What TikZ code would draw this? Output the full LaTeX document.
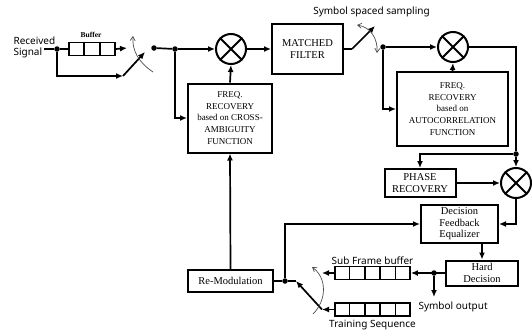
\documentclass[tikz,border=0pt]{standalone}
\usepackage{fontspec}
\setmainfont{Liberation Serif}
\newfontfamily\labelfont{Noto Sans}
\usetikzlibrary{arrows.meta, calc}

\tikzset{
  block/.style={draw, line width=2pt, fill=white, align=center, inner sep=1pt, font=\fontsize{10.5}{12.5}\selectfont},
  freqblock/.style={block, font=\fontsize{9}{11.8}\selectfont},
  mixer/.style={draw, circle, line width=2pt, minimum size=30pt, inner sep=0pt},
  bufbox/.style={draw, line width=1.8pt, minimum height=13pt, inner sep=0pt},
  dot/.style={circle, fill, inner sep=0pt, minimum size=5.5pt},
  conn/.style={line width=1.7pt},
  arr/.style={conn, -{Latex[length=7pt,width=6pt]}},
  swarc/.style={gray!60!black, line width=0.7pt},
  sans/.style={font=\labelfont\fontsize{10}{11}\selectfont},
}

\begin{document}
\begin{tikzpicture}[x=1pt, y=-1pt]
  \useasboundingbox (0,0) rectangle (532,335);

  % blocks
  \node[freqblock, minimum width=84pt, minimum height=69pt] (freqA) at (230,118)
    {FREQ.\\RECOVERY\\based on CROSS-\\AMBIGUITY\\FUNCTION};
  \node[freqblock, minimum width=111pt, minimum height=74pt] (freqB) at (452.5,109)
    {FREQ.\\RECOVERY\\based on\\AUTOCORRELATION\\FUNCTION};
  \node[block, minimum width=71pt, minimum height=50pt] (mf) at (307.5,49) {MATCHED\\FILTER};
  \node[block, minimum width=71pt, minimum height=28pt] (phase) at (420,183) {PHASE\\RECOVERY};
  \node[block, minimum width=77pt, minimum height=38pt, font=\fontsize{10.5}{11.5}\selectfont] (dfe) at (459.5,224)
    {Decision\\Feedback\\Equalizer};
  \node[block, minimum width=72pt, minimum height=25pt, font=\fontsize{10.5}{11.5}\selectfont] (hard) at (482,273) {Hard\\Decision};
  \node[block, minimum width=85pt, minimum height=22pt] (remod) at (230.5,281) {Re-Modulation};

  % mixers
  \node[mixer] (mixA) at (231,49) {};
  \node[mixer] (mixB) at (453,47) {};
  \node[mixer] (mixC) at (516,183) {};
  \foreach \m in {mixA, mixB, mixC}
    \draw[line width=2pt] (\m.45) -- (\m.225) (\m.135) -- (\m.315);

  % buffers
  \node[bufbox, minimum width=46pt] (buf) at (92,49) {};
  \node[bufbox, minimum width=75pt] (subbuf) at (372.5,273) {};
  \node[bufbox, minimum width=75pt] (trainbuf) at (372.5,309.5) {};
  \foreach \i in {1,2}
    \draw[line width=1.8pt] ($(buf.north west)!\i/3!(buf.north east)$) -- ($(buf.south west)!\i/3!(buf.south east)$);
  \foreach \b in {subbuf, trainbuf}
    \foreach \i in {1,...,4}
      \draw[line width=1.8pt] ($(\b.north west)!\i/5!(\b.north east)$) -- ($(\b.south west)!\i/5!(\b.south east)$);

  % labels
  \node[sans, align=left, anchor=west] (recv) at (10,47.5) {Received\\Signal};
  \node[font=\bfseries\fontsize{7.5}{9}\selectfont] (buflbl) at (91,35) {Buffer};
  \node[sans] (samplbl) at (371.5,12) {Symbol spaced sampling};
  \node[sans] (sublbl) at (372.5,261) {Sub Frame buffer};
  \node[sans] (trainlbl) at (372.5,325) {Training Sequence};
  \node[sans, anchor=west] (outlbl) at (415,307) {Symbol output};

  % junctions and switch points
  \coordinate (in) at (44,49);
  \node[dot] (d1) at (57,49) {};
  \node[dot] (d2) at (154,48) {};
  \node[dot] (d3) at (175,49) {};
  \node[dot] (d4) at (383,47) {};
  \node[dot] (d5) at (516,154) {};
  \node[dot] (d6) at (285,281) {};
  \node[dot] (d7) at (434,273) {};
  \coordinate (swAup) at (127,48);
  \coordinate (swAlow) at (123,76);
  \coordinate (swAtip) at (145,52);
  \coordinate (swBpiv) at (352,49);
  \coordinate (swBtip) at (375,26);
  \coordinate (swCtip) at (296,281);
  \coordinate (swCup) at (322,273);
  \coordinate (swClow) at (322,309.5);
  \coordinate (symout) at (434,297);

  % input and first switch
  \draw[conn] (in) -- (d1) -- (buf.west);
  \draw[arr] (buf.east) -- (swAup);
  \draw[arr] (d1) |- (swAlow);
  \draw[arr] (swAlow) -- (swAtip);
  \draw[swarc, -{Straight Barb[length=4pt,width=5pt]}] (153,72) .. controls (138,62) and (132,50) .. (133,36);
  \draw[conn] (d2) -- (d3);
  \draw[arr] (d3) -- (mixA.west);
  \draw[arr] (d3) |- (freqA.west);
  \draw[arr] (freqA.north) -- (mixA.south);
  \draw[arr] (remod.north) -- (freqA.south);
  \draw[arr] (mixA.east) -- (mf.west);

  % sampling switch
  \draw[conn] (mf.east |- swBpiv) -- (swBpiv);
  \draw[arr] (swBpiv) -- (swBtip);
  \draw[swarc, {Straight Barb[length=4pt,width=5pt]}-{Straight Barb[length=4pt,width=5pt]}] (357,25) .. controls (370,27) and (378,38) .. (377,53);
  \draw[arr] (d4) -- (mixB.west);
  \draw[arr] (d4) |- (freqB.west);
  \draw[arr] (freqB.north) -- (mixB.south);

  % phase loop
  \draw[conn] (mixB.east) -| (d5);
  \draw[arr] (d5) -| (phase.north);
  \draw[arr] (d5) -- (mixC.north);
  \draw[arr] (phase.east) -- (mixC.west);
  \draw[arr] (mixC.south) |- (dfe.east);

  % decision and feedback
  \draw[arr] (dfe.south -| hard.north) -- (hard.north);
  \draw[arr] (hard.west) -- (subbuf.east);
  \draw[arr] (d7) -- (symout);
  \draw[arr] (subbuf.west) -- (swCup);
  \draw[arr] (trainbuf.west) -- (swClow);
  \draw[arr] (swClow) -- (swCtip);
  \draw[swarc, -{Straight Barb[length=4pt,width=5pt]}] (313,314) .. controls (327,300) and (327,278) .. (312,267);
  \draw[conn] (remod.east) -- (d6) -- (swCtip);
  \draw[arr] (d6) |- (dfe.west);
\end{tikzpicture}
\end{document}
